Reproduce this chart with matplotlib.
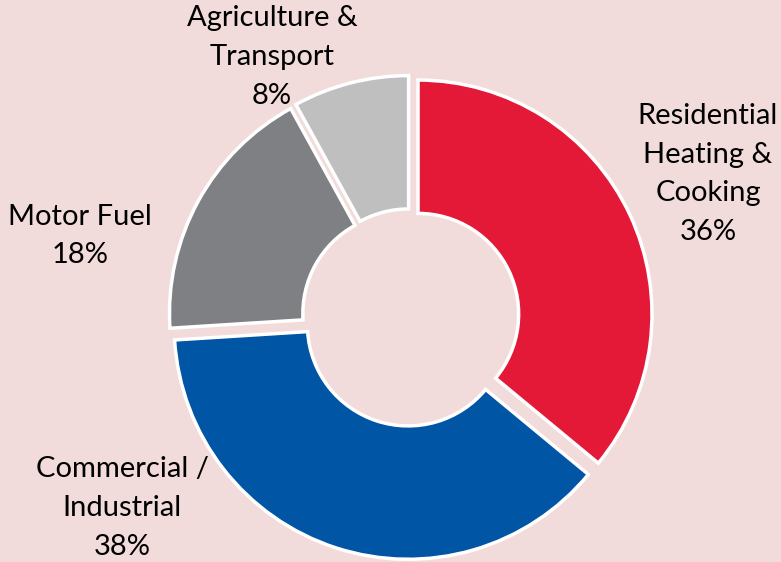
"""Donut chart: end-use shares, exploded wedges on a pink panel."""

import matplotlib
matplotlib.use("Agg")
import matplotlib.pyplot as plt

categories = ["Residential\nHeating &\nCooking", "Commercial /\nIndustrial",
              "Motor Fuel", "Agriculture &\nTransport"]
shares = [36, 38, 18, 8]
colors = ["#E31937", "#0055A4", "#7F8083", "#BFBFBF"]
BG = "#F2DCDB"

# label anchor points (data units, pie radius = 1)
label_pos = [(1.271, 0.613), (-1.233, -0.814), (-1.413, 0.348), (-0.592, 1.113)]

plt.rcParams["font.family"] = ["Lato", "DejaVu Sans"]

fig = plt.figure(figsize=(7.81, 5.62), dpi=100, facecolor=BG)
ax = fig.add_axes([0, 0, 1, 1])
ax.set_facecolor(BG)

ax.pie(shares, colors=colors, startangle=90, counterclock=False,
       explode=[0.035] * len(shares), radius=1.0,
       wedgeprops=dict(width=0.57, edgecolor="white", linewidth=2.5))

for name, val, (x, y) in zip(categories, shares, label_pos):
    ax.text(x, y, f"{name}\n{val}%", ha="center", va="center",
            fontsize=21, linespacing=1.6, color="black")

ax.set_xlim(-1.755, 1.583)
ax.set_ylim(-1.045, 1.357)
ax.set_aspect("equal")
ax.axis("off")

fig.savefig("out.png", dpi=100, facecolor=BG)
